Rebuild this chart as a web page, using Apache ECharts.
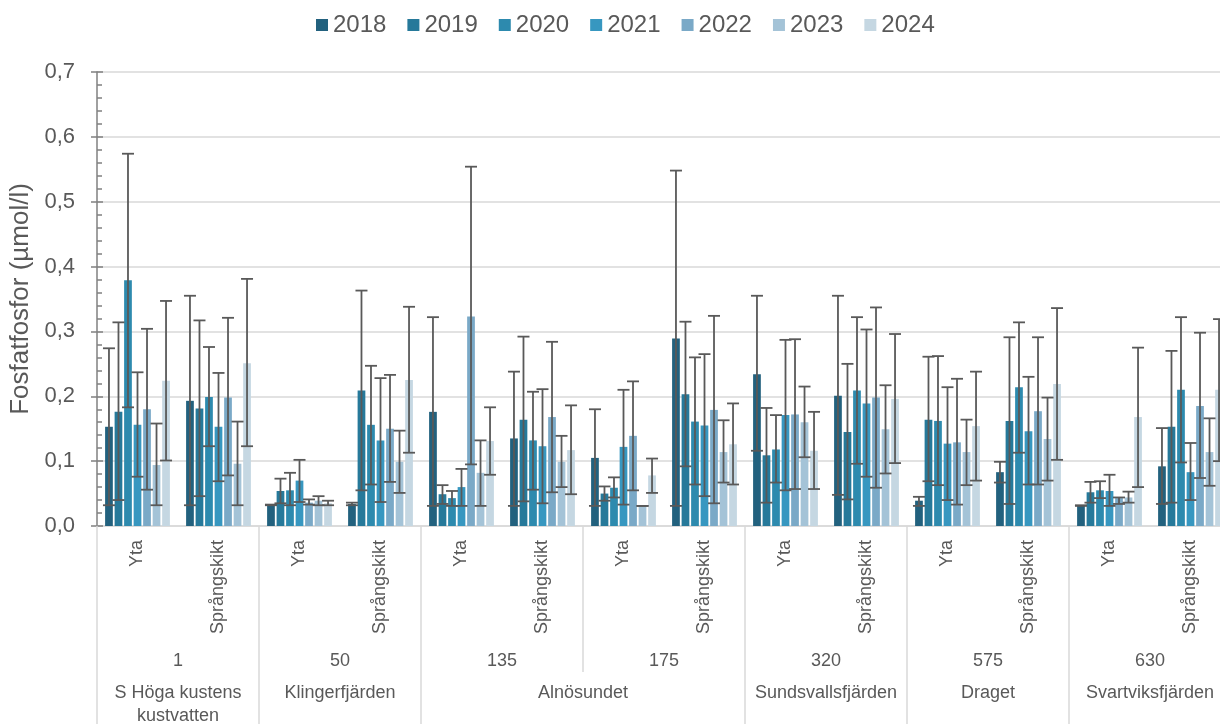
<!DOCTYPE html>
<html>
<head>
<meta charset="utf-8">
<script src="https://cdn.jsdelivr.net/npm/echarts@6/dist/echarts.min.js"></script>
<style>html,body{margin:0;padding:0;background:#fff;}#c{width:1220px;height:724px;}</style>
</head>
<body>
<div id="c"></div>
<script>
var categories = ['Yta','Språngskikt','Yta','Språngskikt','Yta','Språngskikt','Yta','Språngskikt','Yta','Språngskikt','Yta','Språngskikt','Yta','Språngskikt'];
var stationNumbers = ['1','50','135','175','320','575','630'];
var stationNames = ['S Höga kustens\nkustvatten','Klingerfjärden','Alnösundet','Sundsvallsfjärden','Draget','Svartviksfjärden'];
var stationNamePos = [1,3,6,9,11,13];
var stationBounds = [0,2,4,8,10,12,14];
var years = ['2018','2019','2020','2021','2022','2023','2024'];
var yTicks = [0,0.1,0.2,0.3,0.4,0.5,0.6,0.7];

var v2018 = [0.153,0.193,0.032,0.034,0.176,0.135,0.105,0.289,0.234,0.201,0.039,0.083,0.031,0.092];
var lo2018 = [0.032,0.032,0.032,0.032,0.031,0.031,0.031,0.031,0.116,0.048,0.031,0.067,0.031,0.034];
var hi2018 = [0.274,0.355,0.033,0.036,0.322,0.238,0.180,0.548,0.355,0.355,0.045,0.099,0.032,0.151];

var v2019 = [0.176,0.181,0.054,0.209,0.049,0.164,0.050,0.203,0.109,0.145,0.164,0.162,0.052,0.153];
var lo2019 = [0.040,0.046,0.035,0.055,0.034,0.038,0.039,0.092,0.036,0.041,0.069,0.034,0.036,0.036];
var hi2019 = [0.314,0.317,0.073,0.363,0.063,0.292,0.061,0.315,0.182,0.250,0.261,0.291,0.068,0.270];

var v2020 = [0.379,0.199,0.055,0.156,0.043,0.132,0.059,0.161,0.118,0.209,0.162,0.214,0.055,0.210];
var lo2020 = [0.183,0.123,0.032,0.064,0.031,0.056,0.044,0.064,0.067,0.096,0.063,0.113,0.043,0.098];
var hi2020 = [0.574,0.276,0.082,0.247,0.054,0.207,0.075,0.260,0.171,0.322,0.262,0.314,0.069,0.322];

var v2021 = [0.156,0.153,0.070,0.132,0.060,0.123,0.122,0.155,0.171,0.189,0.127,0.146,0.054,0.083];
var lo2021 = [0.076,0.069,0.037,0.037,0.031,0.035,0.033,0.046,0.055,0.076,0.040,0.064,0.031,0.040];
var hi2021 = [0.237,0.236,0.102,0.228,0.088,0.211,0.210,0.265,0.287,0.303,0.214,0.230,0.079,0.128];

var v2022 = [0.180,0.198,0.036,0.150,0.323,0.168,0.139,0.179,0.172,0.198,0.129,0.177,0.043,0.185];
var lo2022 = [0.056,0.078,0.033,0.068,0.095,0.052,0.055,0.035,0.057,0.059,0.033,0.064,0.034,0.074];
var hi2022 = [0.304,0.321,0.041,0.233,0.554,0.284,0.223,0.324,0.288,0.337,0.227,0.291,0.044,0.298];

var v2023 = [0.094,0.096,0.039,0.099,0.082,0.099,0.031,0.114,0.160,0.149,0.114,0.134,0.044,0.114];
var lo2023 = [0.032,0.032,0.032,0.051,0.031,0.060,0.031,0.067,0.106,0.081,0.063,0.070,0.036,0.062];
var hi2023 = [0.158,0.161,0.046,0.147,0.132,0.139,0.031,0.163,0.215,0.217,0.164,0.198,0.053,0.166];

var v2024 = [0.224,0.251,0.035,0.225,0.131,0.117,0.078,0.126,0.116,0.196,0.154,0.219,0.168,0.210];
var lo2024 = [0.101,0.123,0.032,0.113,0.079,0.049,0.051,0.064,0.057,0.097,0.070,0.102,0.060,0.100];
var hi2024 = [0.347,0.381,0.039,0.338,0.183,0.186,0.104,0.189,0.176,0.296,0.238,0.336,0.275,0.319];

var colors = ['#22617e','#26799a','#2d8aae','#3797c0','#7aa9c7','#a4c3d7','#c5d7e2'];

var values = [v2018,v2019,v2020,v2021,v2022,v2023,v2024];
var lows = [lo2018,lo2019,lo2020,lo2021,lo2022,lo2023,lo2024];
var highs = [hi2018,hi2019,hi2020,hi2021,hi2022,hi2023,hi2024];

var CAT_GAP = 0.2, BAR_GAP = 0.23, N = years.length;

function makeErr(idx){
  return function(params, api){
    var ci = api.value(0);
    var pLo = api.coord([ci, api.value(1)]);
    var pHi = api.coord([ci, api.value(2)]);
    var band = api.size([1,0])[0];
    var avail = band*(1-CAT_GAP);
    var w = avail/(N + (N-1)*BAR_GAP);
    var x = pLo[0] - avail/2 + w/2 + idx*w*(1+BAR_GAP);
    var cap = 6;
    var st = {stroke:'#595959', lineWidth:1.8};
    return {type:'group', children:[
      {type:'line', shape:{x1:x,y1:pLo[1],x2:x,y2:pHi[1]}, style:st},
      {type:'line', shape:{x1:x-cap,y1:pLo[1],x2:x+cap,y2:pLo[1]}, style:st},
      {type:'line', shape:{x1:x-cap,y1:pHi[1],x2:x+cap,y2:pHi[1]}, style:st}
    ]};
  };
}

var series = [];
years.forEach(function(y,i){
  series.push({name:y, type:'bar', xAxisIndex:0, yAxisIndex:0, data:values[i],
    itemStyle:{color:colors[i]}, barCategoryGap:(CAT_GAP*100)+'%', barGap:(BAR_GAP*100)+'%', silent:true});
});
years.forEach(function(y,i){
  var d = categories.map(function(c,k){ return [k, lows[i][k], highs[i][k]]; });
  series.push({name:'err'+y, type:'custom', xAxisIndex:0, yAxisIndex:0, renderItem:makeErr(i), data:d, z:5, silent:true});
});

var txt = '#595959', sep = '#d9d9d9';
var chart = echarts.init(document.getElementById('c'));
chart.setOption({
  animation:false,
  textStyle:{fontFamily:'Liberation Sans, Arial, sans-serif'},
  legend:{data:years, top:8, left:311, itemWidth:12, itemHeight:12, itemGap:21, icon:'rect',
    textStyle:{fontSize:24, color:txt}},
  grid:{left:97, right:-11, top:72, bottom:198, outerBoundsMode:'none', containLabel:false},
  xAxis:[
    {type:'category', data:categories, position:'bottom',
      axisLine:{show:true, lineStyle:{color:sep, width:1.5}},
      axisTick:{show:false},
      axisLabel:{rotate:90, interval:0, fontSize:18, color:txt, margin:14}},
    {type:'category', data:stationNumbers, position:'bottom',
      axisLine:{show:false},
      axisTick:{show:true, length:146, lineStyle:{color:sep, width:1.5}},
      axisLabel:{interval:0, fontSize:18, color:txt, margin:126}},
    {type:'value', min:0, max:14, position:'bottom',
      axisLine:{show:false}, splitLine:{show:false},
      axisTick:{show:true, length:198, customValues:stationBounds, lineStyle:{color:sep, width:1.5}},
      axisLabel:{customValues:stationNamePos, fontSize:18, color:txt, margin:156, lineHeight:23,
        formatter:function(v){ var k = stationNamePos.indexOf(Math.round(v)); return k>=0 ? stationNames[k] : ''; }}}
  ],
  yAxis:[
    {type:'value', min:0, max:0.7, interval:0.1, position:'left',
      name:'Fosfatfosfor (µmol/l)', nameLocation:'middle', nameGap:62,
      nameTextStyle:{fontSize:26, color:txt},
      axisLine:{show:true, lineStyle:{color:'#808080', width:1.5}},
      axisTick:{show:true, inside:false, length:6, lineStyle:{color:'#808080', width:1.5}},
      splitLine:{show:true, lineStyle:{color:sep, width:1.5}},
      axisLabel:{fontSize:22, color:txt, margin:22, formatter:function(v){ return v.toFixed(1).replace('.', ','); }}},
    {type:'value', min:0, max:0.7, interval:0.1, position:'left',
      axisLine:{show:false}, splitLine:{show:false}, axisLabel:{show:false},
      axisTick:{show:true, inside:true, length:6, lineStyle:{color:'#808080', width:1.5}},
      minorTick:{show:true, splitNumber:5, length:5, lineStyle:{color:'#808080', width:1.5}}}
  ],
  series:series
});
</script>
</body>
</html>
